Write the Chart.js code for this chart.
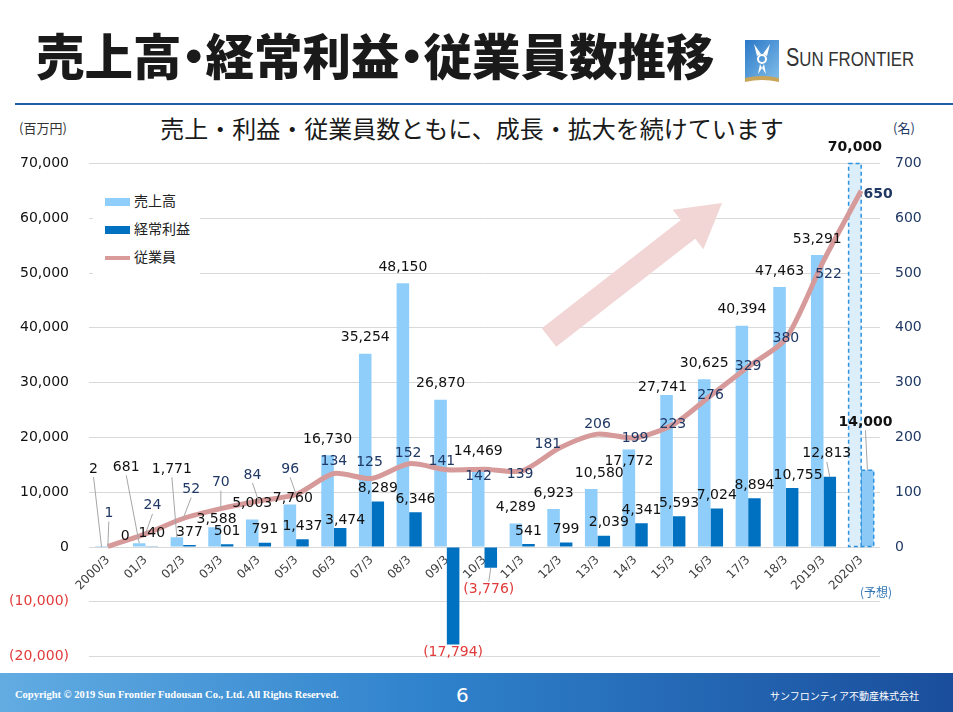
<!DOCTYPE html>
<html>
<head>
<meta charset="utf-8">
<script src="https://cdn.jsdelivr.net/npm/chart.js@4.4.1/dist/chart.umd.min.js"></script>
<style>
body{margin:0;width:953px;height:712px;position:relative;overflow:hidden;background:#fff;font-family:"Noto Sans CJK JP",sans-serif}
.abs{position:absolute}
#title{left:36px;top:19px;font-size:48.5px;font-weight:900;color:#1a1a1a;white-space:nowrap}
#title .dot{display:inline-block;width:24px;text-align:center;overflow:visible}
#title .dot span{display:inline-block;margin:0 -12px}
#rule{left:15px;top:103px;width:938px;height:2px;background:#1f5fa8}
#sub{left:0;width:944px;top:110px;text-align:center;font-size:24px;color:#1a1a1a}
#unitL{left:19px;top:118px;font-size:13px;color:#333}
#unitR{left:893px;top:118px;font-size:13px;color:#1f3864}
#chartBox{left:0;top:135px;width:953px;height:550px}
#legend{left:93px;top:180px;width:107px;height:94px;background:#fff}
.lg{position:absolute;left:12px;font-size:14px;color:#222;white-space:nowrap}
.sw{display:inline-block;width:25px;height:8px;vertical-align:middle;margin-right:4px}
#forecast{left:860px;top:583px;font-size:12px;color:#2f75b5}
#footer{left:0;top:673px;width:953px;height:39px;background:linear-gradient(90deg,#62ace2 0%,#2f82cc 45%,#1a4e9c 100%)}
#copy{left:15px;top:689px;font-family:"Liberation Serif",serif;font-weight:bold;font-size:10.5px;color:#fff;white-space:nowrap}
#page{left:456px;top:683px;font-size:20px;color:#fff;font-family:"DejaVu Sans",sans-serif}
#corp{left:770px;top:688px;font-size:10px;color:#fff;white-space:nowrap}
#logoText{left:786px;top:43px;font-family:"Liberation Sans",sans-serif;font-size:21px;color:#333;white-space:nowrap;transform:scaleX(0.8);transform-origin:0 0}
</style>
</head>
<body>
<div id="title" class="abs">売上高<span class="dot"><span>・</span></span>経常利益<span class="dot"><span>・</span></span>従業員数推移</div>
<svg class="abs" style="left:745px;top:40px" width="34" height="42" viewBox="0 0 34 42">
  <defs><linearGradient id="lg1" x1="0" y1="0" x2="1" y2="1"><stop offset="0" stop-color="#2a78c8"/><stop offset="1" stop-color="#7fbce8"/></linearGradient></defs>
  <rect x="0" y="0" width="34" height="38" fill="url(#lg1)"/>
  <path d="M0 38 Q17 34 34 38 L34 42 Q17 38 0 42Z" fill="#c9a55a"/>
  <path d="M9 4 L16 14 L12 16Z M25 4 L18 14 L22 16Z" fill="#fff"/>
  <circle cx="17" cy="19" r="4" fill="none" stroke="#fff" stroke-width="2"/>
  <path d="M15 24 L13 34 L17 28Z M19 24 L21 34 L17 28Z" fill="#fff"/>
</svg>
<div id="logoText" class="abs"><span style="font-size:25px">S</span>UN FRONTIER</div>
<div id="rule" class="abs"></div>
<div id="sub" class="abs">売上・利益・従業員数ともに、成長・拡大を続けています</div>
<div id="unitL" class="abs">(百万円)</div>
<div id="unitR" class="abs">(名)</div>
<div id="chartBox" class="abs"><canvas id="c" width="953" height="550"></canvas></div>
<svg class="abs" style="left:0;top:0" width="953" height="712">
  <polygon points="541.8,328.2 680.8,220.1 672.7,209.7 722,203 703.4,249.2 695.2,238.7 556.2,346.8" fill="#f2d5d5"/>
</svg>
<div id="legend" class="abs">
  <div class="lg" style="top:10px"><span class="sw" style="background:#8fcefa"></span>売上高</div>
  <div class="lg" style="top:38px"><span class="sw" style="background:#0070c0"></span>経常利益</div>
  <div class="lg" style="top:66px"><span class="sw" style="background:#d99a9a;height:4px"></span>従業員</div>
</div>
<div id="forecast" class="abs">(予想)</div>
<div id="footer" class="abs"></div>
<div id="copy" class="abs">Copyright © 2019 Sun Frontier Fudousan Co., Ltd. All Rights Reserved.</div>
<div id="page" class="abs">6</div>
<div id="corp" class="abs">サンフロンティア不動産株式会社</div>
<script>
// data (百万円 / 名)
var categories = ['2000/3','01/3','02/3','03/3','04/3','05/3','06/3','07/3','08/3','09/3','10/3',
                  '11/3','12/3','13/3','14/3','15/3','16/3','17/3','18/3','2019/3','2020/3'];
var sales = [2,681,1771,3588,5003,7760,16730,35254,48150,26870,14469,
             4289,6923,10580,17772,27741,30625,40394,47463,53291,70000];
var profit = [0,140,377,501,791,1437,3474,8289,6346,-17794,-3776,
              541,799,2039,4341,5593,7024,8894,10755,12813,14000];
var employees = [1,24,52,70,84,96,134,125,152,141,142,
                 139,181,206,199,223,276,329,380,522,650];
var leftTicks = [-20000,70000,10000];   // min, max, step
var rightTicks = [-200,700,100];
var forecastIndex = categories.length - 1;

// label nudges [dx, dy, leader]
var salesNudge = {0:[-8,-62,1],1:[-13,-60,1],2:[-5,-52,1],3:[2,8],5:[3,10],13:[8,0],14:[0,28],15:[-4,8]};
var profitNudge = {0:[11,2],6:[5,5],9:[0,-2],10:[-2,12,1],13:[5,0],18:[6,0],19:[-3,-10,1],20:[-2,-35,1]};
var empNudge = {0:[1,-33,1],1:[7,-28,1],2:[8,-29,1],3:[0,-26,1],4:[-6,-26,1],5:[-6,-25,1],6:[0,-12],7:[-2,-16],
                8:[-1,-10],9:[-5,-8],10:[-6,7],11:[-2,4],12:[-12,-3],13:[0,-10],19:[5,13],20:[17,4]};

var NUM = '"DejaVu Sans", Verdana, sans-serif';
var fmt = function(v){ return v < 0 ? '(' + Math.abs(v).toLocaleString('en-US') + ')' : v.toLocaleString('en-US'); };

var dashPlugin = {
  id:'dash',
  afterDatasetDraw: function(chart, args){
    if (args.meta.type !== 'bar') return;
    var el = args.meta.data[forecastIndex];
    if (!el) return;
    var p = el.getProps(['x','y','base','width'], true);
    var ctx = chart.ctx;
    ctx.save();
    ctx.setLineDash([4,3]);
    ctx.strokeStyle = '#2b93e0';
    ctx.lineWidth = 1.5;
    ctx.strokeRect(p.x - p.width/2, Math.min(p.y,p.base), p.width, Math.abs(p.base - p.y));
    ctx.restore();
  }
};

var labelPlugin = {
  id:'labels',
  afterDraw: function(chart){
    var ctx = chart.ctx;
    ctx.save();
    ctx.textAlign = 'center';
    ctx.textBaseline = 'middle';
    function put(text, x, y, nud, ax, ay, color, bold){
      var dx = nud ? nud[0] : 0, dy = nud ? nud[1] : 0;
      if (nud && nud[2]) {
        ctx.strokeStyle = '#a6a6a6'; ctx.lineWidth = 1;
        ctx.beginPath();
        ctx.moveTo(x + dx, y + dy + (ay > y + dy ? 8 : -8));
        ctx.lineTo(ax, ay);
        ctx.stroke();
      }
      ctx.font = (bold ? 'bold ' : '') + '14px ' + NUM;
      ctx.fillStyle = color;
      ctx.fillText(text, x + dx, y + dy);
    }
    var ms = chart.getDatasetMeta(0), mp = chart.getDatasetMeta(1), me = chart.getDatasetMeta(2);
    sales.forEach(function(v,i){
      var b = ms.data[i];
      put(fmt(v), b.x, b.y - 16, salesNudge[i], b.x, b.y, '#111', i === forecastIndex);
    });
    profit.forEach(function(v,i){
      var b = mp.data[i];
      if (v < 0) put(fmt(v), b.x, b.y + 10, profitNudge[i], b.x, b.y, '#e23a3a', false);
      else put(fmt(v), b.x, b.y - 13, profitNudge[i], b.x, b.y, '#111', i === forecastIndex);
    });
    employees.forEach(function(v,i){
      var p = me.data[i];
      put(String(v), p.x, p.y, empNudge[i], p.x, p.y, '#1f3864', i === forecastIndex);
    });
    ctx.restore();
  }
};

new Chart(document.getElementById('c'), {
  type: 'bar',
  data: {
    labels: categories,
    datasets: [{
        label: '売上高',
        data: sales,
        backgroundColor: function(c){ return c.dataIndex === forecastIndex ? '#ddeefb' : '#8fcefa'; },
        categoryPercentage: 0.667, barPercentage: 1,
        yAxisID: 'y', order: 2
      },{
        label: '経常利益',
        data: profit,
        backgroundColor: function(c){ return c.dataIndex === forecastIndex ? '#8cc9f6' : '#0070c0'; },
        categoryPercentage: 0.667, barPercentage: 1,
        yAxisID: 'y', order: 2
      },{
        type: 'line',
        label: '従業員',
        data: employees,
        borderColor: '#d79a9a',
        borderWidth: 5,
        pointRadius: 0,
        tension: 0.25,
        yAxisID: 'y1', order: 0
      }
    ]
  },
  options: {
    responsive: false,
    animation: false,
    layout: { padding: { top: 17, bottom: 9 } },
    plugins: { legend: { display: false }, tooltip: { enabled: false } },
    scales: {
      x: {
        position: { y: 0 },
        grid: { display: false, drawTicks: false },
        border: { display: false },
        ticks: { minRotation: 45, maxRotation: 45, autoSkip: false, padding: 6,
                 color: '#404040', font: { size: 12, family: NUM } }
      },
      y: {
        position: 'left',
        min: leftTicks[0], max: leftTicks[1],
        ticks: { stepSize: leftTicks[2], padding: 20, font: { size: 14, family: NUM },
                 color: function(c){ return c.tick.value < 0 ? '#e23a3a' : '#111'; },
                 callback: function(v){ return fmt(v); } },
        grid: { color: '#d9d9d9', drawTicks: false },
        border: { display: false },
        afterFit: function(s){ s.width = 89; }
      },
      y1: {
        position: 'right',
        min: rightTicks[0], max: rightTicks[1],
        ticks: { stepSize: rightTicks[2], padding: 15, font: { size: 14, family: NUM }, color: '#1f3864',
                 callback: function(v){ return v < 0 ? '' : v; } },
        grid: { display: false, drawTicks: false },
        border: { display: false },
        afterFit: function(s){ s.width = 73; }
      }
    }
  },
  plugins: [dashPlugin, labelPlugin]
});
</script>
</body>
</html>
